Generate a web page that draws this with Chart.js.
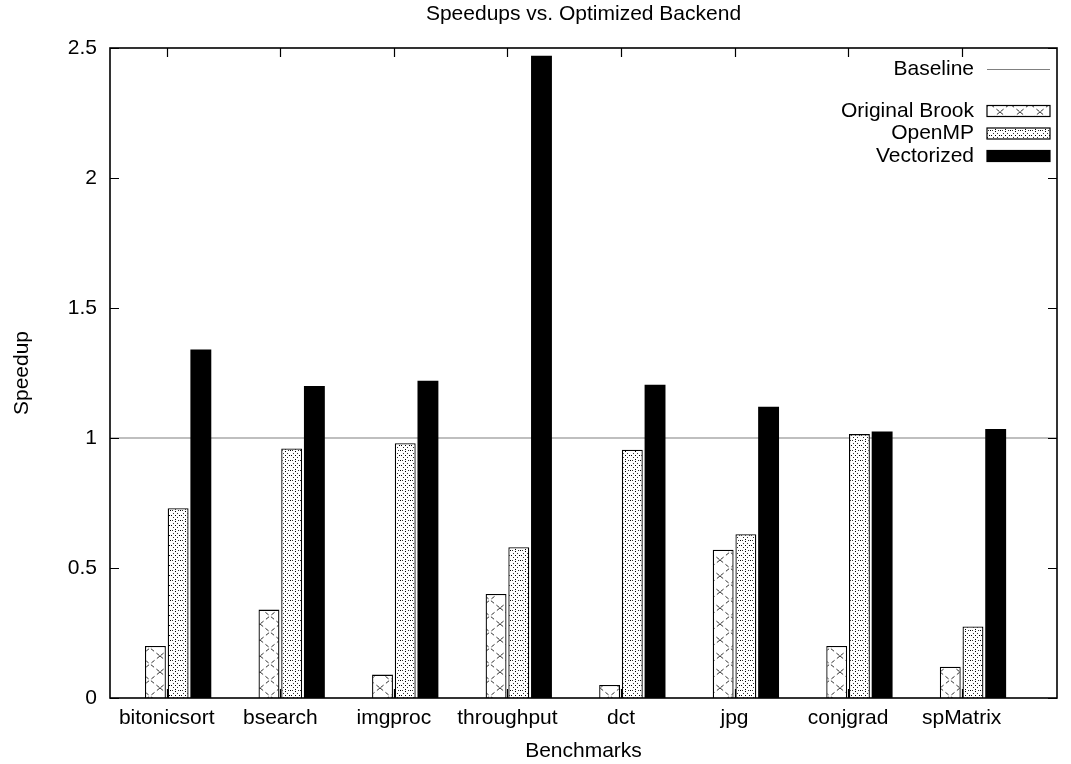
<!DOCTYPE html>
<html>
<head>
<meta charset="utf-8">
<title>Speedups vs. Optimized Backend</title>
<script src="https://cdn.jsdelivr.net/npm/chart.js@4.4.1/dist/chart.umd.min.js"></script>
<style>
  html, body { margin: 0; padding: 0; background: #fff; }
  #wrap { width: 1071px; height: 764px; }
</style>
</head>
<body>
<div id="wrap"><canvas id="speedups" width="1071" height="764"></canvas></div>
<script>
// values
const benchmarks = ["bitonicsort", "bsearch", "imgproc", "throughput", "dct", "jpg", "conjgrad", "spMatrix"];
const originalBrook = [0.20, 0.34, 0.09, 0.40, 0.05, 0.57, 0.20, 0.12];
const openMP = [0.73, 0.96, 0.98, 0.58, 0.955, 0.63, 1.015, 0.275];
const vectorized = [1.34, 1.20, 1.22, 2.47, 1.205, 1.12, 1.025, 1.035];
const baseline = 1;

const X_MIN = -0.5, X_MAX = 7.84;
const Y_MIN = 0, Y_MAX = 2.5, Y_STEP = 0.5;
const CLUSTER_SHIFT = 0.1; // gnuplot puts the tick under the first bar's right edge

const FONT = "'Liberation Sans', Arial, Helvetica, sans-serif";
const FONT_SIZE = 21;

function makePattern(w, h, draw) {
  const c = document.createElement("canvas");
  c.width = w;
  c.height = h;
  const g = c.getContext("2d");
  g.fillStyle = "#fff";
  g.fillRect(0, 0, w, h);
  draw(g, w, h);
  return g.createPattern(c, "repeat");
}

// big dashed crosses
const crossFill = makePattern(20, 16, (g, w, h) => {
  g.strokeStyle = "#000";
  g.lineWidth = 0.8;
  g.setLineDash([4, 3]);
  g.beginPath();
  g.moveTo(0, 0); g.lineTo(w, h);
  g.moveTo(w, 0); g.lineTo(0, h);
  g.stroke();
});

// dots arranged in little rings and chevrons
const dotFill = makePattern(10, 10, (g) => {
  g.fillStyle = "#000";
  [[5, 1], [1, 5], [9, 5], [5, 9], [0, 0], [5, 5]].forEach(([x, y]) => g.fillRect(x, y, 1, 1));
  g.fillStyle = "#333";
  [[3, 3], [7, 3], [3, 7], [7, 7], [2, 0], [8, 0]].forEach(([x, y]) => g.fillRect(x, y, 1, 1));
});

const toPoints = (vals) => vals.map((v, i) => ({ x: i + CLUSTER_SHIFT, y: v }));

// frame + inward ticks on all four sides, like gnuplot
const framePlugin = {
  id: "frame",
  afterDraw(chart) {
    const { ctx, chartArea: a, scales } = chart;
    const len = 9;
    ctx.save();
    ctx.strokeStyle = "#000";
    ctx.lineWidth = 1.2;
    ctx.beginPath();
    scales.y.ticks.forEach((t) => {
      const y = Math.round(scales.y.getPixelForValue(t.value)) + 0.5;
      ctx.moveTo(a.left, y); ctx.lineTo(a.left + len, y);
      ctx.moveTo(a.right, y); ctx.lineTo(a.right - len, y);
    });
    scales.x.ticks.forEach((t) => {
      const x = Math.round(scales.x.getPixelForValue(t.value)) + 0.5;
      ctx.moveTo(x, a.top); ctx.lineTo(x, a.top + len);
      ctx.moveTo(x, a.bottom); ctx.lineTo(x, a.bottom - len);
    });
    ctx.stroke();
    ctx.lineWidth = 1.6;
    ctx.strokeRect(a.left, a.top, a.right - a.left, a.bottom - a.top);
    ctx.restore();
  }
};

// key in the top right corner, text to the left of the sample
const keyPlugin = {
  id: "key",
  afterDatasetsDraw(chart) {
    const { ctx, chartArea: a } = chart;
    const boxW = 63, boxH = 11;
    const right = a.right - 7;
    const textX = right - boxW - 13;
    ctx.save();
    ctx.font = FONT_SIZE + "px " + FONT;
    ctx.textAlign = "right";
    ctx.textBaseline = "middle";
    ctx.fillStyle = "#000";
    let row = 0;
    chart.data.datasets.forEach((ds) => {
      let y;
      if (ds.type === "line") {
        y = a.top + 21;
        ctx.fillText(ds.label, textX, y);
        ctx.strokeStyle = ds.borderColor;
        ctx.lineWidth = 1.2;
        ctx.beginPath();
        ctx.moveTo(right - boxW, y + 0.5);
        ctx.lineTo(right, y + 0.5);
        ctx.stroke();
        return;
      }
      y = a.top + 63 + row * 22.5;
      row++;
      ctx.fillStyle = "#000";
      ctx.fillText(ds.label, textX, y);
      ctx.fillStyle = ds.backgroundColor;
      ctx.fillRect(right - boxW, y - boxH / 2, boxW, boxH);
      ctx.strokeStyle = "#000";
      ctx.lineWidth = 1.2;
      ctx.strokeRect(right - boxW, y - boxH / 2, boxW, boxH);
    });
    ctx.restore();
  }
};

const axisFont = { family: FONT, size: FONT_SIZE, weight: "normal" };

new Chart(document.getElementById("speedups"), {
  type: "bar",
  data: {
    datasets: [
      {
        type: "line",
        label: "Baseline",
        data: [{ x: X_MIN, y: baseline }, { x: X_MAX, y: baseline }],
        borderColor: "#808080",
        borderWidth: 1.2,
        pointRadius: 0,
        order: 10,
      },
      {
        label: "Original Brook",
        data: toPoints(originalBrook),
        backgroundColor: crossFill,
        borderColor: "#000",
        borderWidth: 1.3,
      },
      {
        label: "OpenMP",
        data: toPoints(openMP),
        backgroundColor: dotFill,
        borderColor: "#000",
        borderWidth: 1.3,
      },
      {
        label: "Vectorized",
        data: toPoints(vectorized),
        backgroundColor: "#000",
        borderColor: "#000",
        borderWidth: 0,
      },
    ],
  },
  options: {
    responsive: false,
    animation: false,
    categoryPercentage: 0.6,
    barPercentage: 0.92,
    layout: { padding: { left: 0, right: 14, top: 0, bottom: 0 } },
    scales: {
      x: {
        type: "linear",
        min: X_MIN,
        max: X_MAX,
        offset: false,
        grid: { display: false, drawTicks: false },
        border: { display: false },
        ticks: {
          stepSize: 1,
          includeBounds: false,
          autoSkip: false,
          maxRotation: 0,
          padding: 8,
          color: "#000",
          font: axisFont,
          callback: (v) => benchmarks[v] ?? "",
        },
        title: {
          display: true,
          text: "Benchmarks",
          color: "#000",
          font: axisFont,
          padding: { top: 0, bottom: 0.5 },
        },
        afterFit(s) { s.height = 66; },
      },
      y: {
        min: Y_MIN,
        max: Y_MAX,
        grid: { display: false, drawTicks: false },
        border: { display: false },
        ticks: {
          stepSize: Y_STEP,
          padding: 13,
          color: "#000",
          font: axisFont,
          callback: (v) => String(Math.round(v * 10) / 10),
        },
        title: {
          display: true,
          text: "Speedup",
          color: "#000",
          font: axisFont,
          padding: { top: 9.5, bottom: 0 },
        },
        afterFit(s) { s.width = 110; },
      },
    },
    plugins: {
      legend: { display: false },
      tooltip: { enabled: false },
      title: {
        display: true,
        fullSize: false,
        text: "Speedups vs. Optimized Backend",
        color: "#000",
        font: axisFont,
        padding: { top: 2, bottom: 20.8 },
      },
    },
  },
  plugins: [framePlugin, keyPlugin],
});
</script>
</body>
</html>
